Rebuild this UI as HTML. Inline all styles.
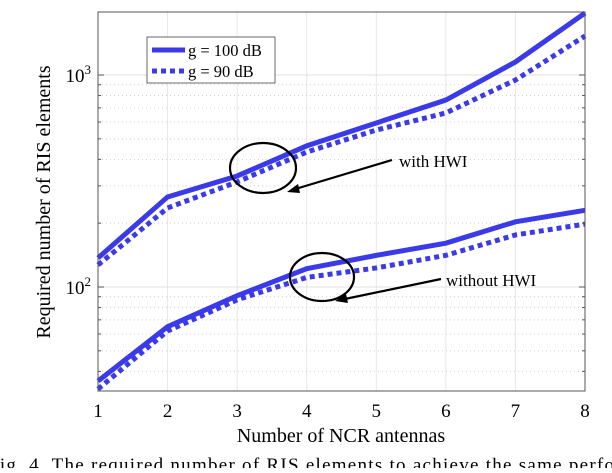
<!DOCTYPE html>
<html><head><meta charset="utf-8"><style>
body{margin:0;background:#fff;width:612px;height:468px;overflow:hidden}
svg{font-family:"Liberation Serif",serif}
</style></head><body>
<svg id="chart" width="612" height="468">
<g id="grid"></g>
<g id="series"></g>
<rect x="98" y="12" width="487" height="379" fill="none" stroke="#555" stroke-width="1"/>
<g id="ticks"></g>
<text x="50" y="202" font-size="20" text-anchor="middle" transform="rotate(-90 50 202)">Required number of RIS elements</text>
<text x="341" y="442" font-size="20" text-anchor="middle">Number of NCR antennas</text>
<g>
<rect x="147" y="37" width="128" height="46" fill="#fff" stroke="#444" stroke-width="0.8"/>
<line x1="152" y1="50" x2="185" y2="50" stroke="#3a3ae8" stroke-width="5"/>
<text x="188" y="56" font-size="16.5">g = 100 dB</text>
<line x1="152" y1="71" x2="185" y2="71" stroke="#3a3ae8" stroke-width="5" stroke-dasharray="5,4"/>
<text x="188" y="77" font-size="16.5">g = 90 dB</text>
</g>
<g>
<ellipse cx="263" cy="168" rx="33" ry="25" fill="none" stroke="#000" stroke-width="2.2"/>
<line x1="392" y1="160" x2="292" y2="190" stroke="#000" stroke-width="2.2"/>
<polygon points="287,192 298,184 300,193" fill="#000"/>
<text x="399" y="167" font-size="17">with HWI</text>
</g>
<g>
<ellipse cx="322" cy="277" rx="32" ry="24" fill="none" stroke="#000" stroke-width="2.2"/>
<line x1="441" y1="279" x2="340" y2="300" stroke="#000" stroke-width="2.2"/>
<polygon points="335,301 346,294 348,303" fill="#000"/>
<text x="446" y="286" font-size="17">without HWI</text>
</g>
<text x="-12" y="471" font-size="19" textLength="626" lengthAdjust="spacing">Fig. 4.  The required number of RIS elements to achieve the same perfo</text>
</svg>
<script>
const xCats=[1,2,3,4,5,6,7,8];
const withHwi100=[137,266,334,463,594,762,1152,1960];
const withHwi90=[127,236,313,433,550,662,947,1527];
const noHwi100=[36,65,91,122,141,161,203,230];
const noHwi90=[33,62,87,111,123,141,176,198];
const yMajor=[100,1000];
const yMajorLabels=["10","10"];
const NS="http://www.w3.org/2000/svg";
const X0=98,X1=585,YT=12,YB=391;
function xs(v){return X0+(v-1)*(X1-X0)/7;}
function ys(v){return 75-(Math.log10(v)-3)*212;}
function mk(t,a,p){const e=document.createElementNS(NS,t);for(const k in a)e.setAttribute(k,a[k]);p.appendChild(e);return e;}
const grid=document.getElementById('grid'),ticks=document.getElementById('ticks'),ser=document.getElementById('series');
xCats.forEach(c=>{const x=xs(c);
const g=mk('line',{x1:x,x2:x,y1:YT,y2:YB,stroke:'#e6e6e6','stroke-width':1},grid);

const t=mk('text',{x:x,y:417,'font-size':19,'text-anchor':'middle'},ticks);t.textContent=c;
});
for(let d=10;d<=1000;d*=10){for(let m=1;m<=9;m++){const v=d*m;const y=ys(v);if(y<YT||y>YB)continue;
const major=m===1;
const g=mk('line',{x1:X0,x2:X1,y1:y,y2:y,stroke:major?'#e0e0e0':'#d0d0d0','stroke-width':1,'stroke-dasharray':major?'':'1,3'},grid);

mk('line',{x1:X0,x2:X0+(major?6:3),y1:y,y2:y,stroke:'#555'},ticks);
mk('line',{x1:X1,x2:X1-(major?6:3),y1:y,y2:y,stroke:'#555'},ticks);}}
yMajor.forEach((v,i)=>{const y=ys(v);
const t=mk('text',{x:91,y:y+7,'font-size':19,'text-anchor':'end'},ticks);
t.textContent=yMajorLabels[i];
const s=mk('tspan',{'font-size':13,dy:-8},t);s.textContent=String(Math.round(Math.log10(v)));
});
function line(arr,dash,name){const pts=arr.map((v,i)=>xs(xCats[i])+','+ys(v)).join(' ');
const p=mk('polyline',{points:pts,fill:'none',stroke:'#3a3ae8','stroke-width':5,'stroke-dasharray':dash},ser);
}
line(withHwi100,'','with-hwi-100db-line');
line(withHwi90,'5,4','with-hwi-90db-line');
line(noHwi100,'','without-hwi-100db-line');
line(noHwi90,'5,4','without-hwi-90db-line');
</script>
</body></html>
